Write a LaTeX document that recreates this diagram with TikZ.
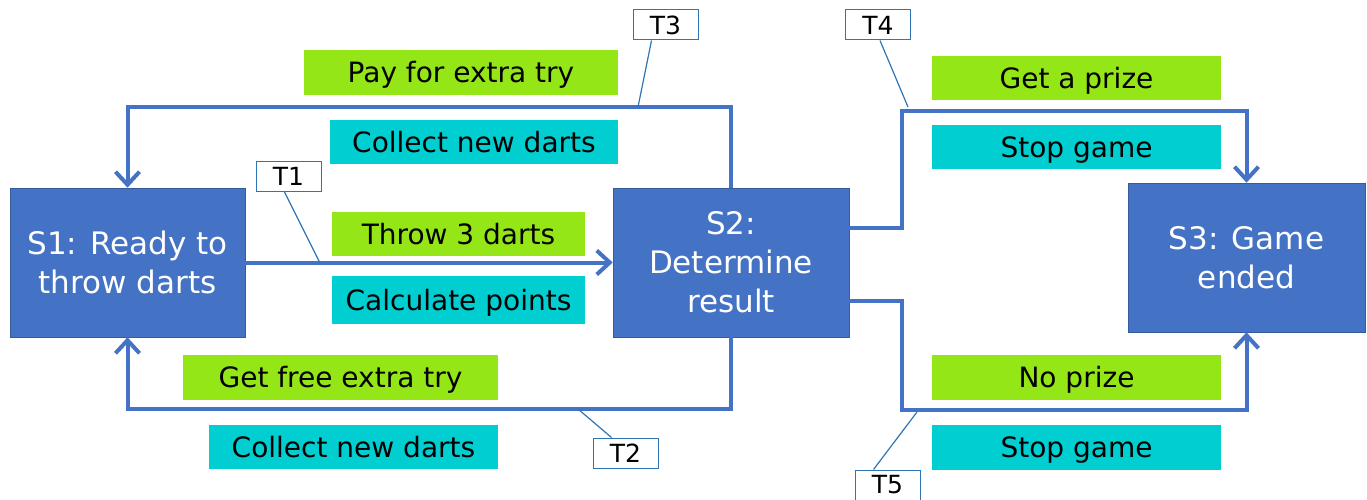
\documentclass[tikz,border=0pt]{standalone}
\usepackage{fontspec}
\setmainfont{DejaVu Sans}
\usetikzlibrary{arrows.meta}
\definecolor{stblue}{HTML}{4472C4}
\definecolor{lgreen}{HTML}{95E616}
\definecolor{lcyan}{HTML}{00CED1}
\definecolor{cblue}{HTML}{2E75B6}
\tikzset{
  state/.style={draw=stblue!80!black, line width=0.6pt, fill=stblue, text=white, align=center,
     inner sep=0pt, font=\fontsize{31}{39}\selectfont},
  lab/.style={inner sep=0pt, text=black, text height=22pt, text depth=1.6pt,
     font=\fontsize{28}{30}\selectfont},
  glab/.style={lab, fill=lgreen},
  clab/.style={lab, fill=lcyan},
  callout/.style={draw=cblue, line width=1pt, fill=white, inner sep=0pt,
     minimum width=65pt, minimum height=30pt, font=\fontsize{25}{28}\selectfont},
  conn/.style={draw=stblue, line width=4pt, -{Straight Barb[length=13pt,width=24pt,line width=4pt]}},
  cline/.style={draw=cblue, line width=1.2pt},
}
\begin{document}
\begin{tikzpicture}[x=1pt,y=-1pt]
\useasboundingbox (0,0) rectangle (1367,500);
% states
\node[state, minimum width=235pt, minimum height=149pt] (s1) at (127.5,262.5) {S1: Ready to\\throw darts};
\node[state, minimum width=236pt, minimum height=149pt] (s2) at (731,262.5) {S2:\\Determine\\result};
\node[state, minimum width=237pt, minimum height=149pt] (s3) at (1246.5,257.5) {S3: Game\\ended};
% labels
\node[glab, minimum width=314pt, minimum height=45pt] (l1) at (461,72.5) {Pay for extra try};
\node[clab, minimum width=288pt, minimum height=44pt] (l2) at (474,142) {Collect new darts};
\node[glab, minimum width=253pt, minimum height=44pt] (l3) at (458.5,234) {Throw 3 darts};
\node[clab, minimum width=253pt, minimum height=48pt] (l4) at (458.5,300) {Calculate points};
\node[glab, minimum width=315pt, minimum height=45pt] (l5) at (340.5,377.5) {Get free extra try};
\node[clab, minimum width=289pt, minimum height=44pt] (l6) at (353.5,447) {Collect new darts};
\node[glab, minimum width=289pt, minimum height=44pt] (l7) at (1076.5,78) {Get a prize};
\node[clab, minimum width=289pt, minimum height=44pt] (l8) at (1076.5,147) {Stop game};
\node[glab, minimum width=289pt, minimum height=45pt] (l9) at (1076.5,377.5) {No prize};
\node[clab, minimum width=289pt, minimum height=45pt] (l10) at (1076.5,447.5) {Stop game};
% bend points
\coordinate (b4) at (902,111);
\coordinate (b5) at (902,410);
% connectors
\draw[conn] (s1.east) -- (s2.west);
\draw[conn] (s2.north) -- ++(0,-81) -| (s1.north);
\draw[conn] (s2.south) -- ++(0,72) -| (s1.south);
\draw[conn] ([yshift=34.5pt]s2.east) -| (b4) -| (s3.north);
\draw[conn] ([yshift=-38.5pt]s2.east) -| (b5) -| (s3.south);
% callout pointers
\coordinate (p1) at (320,263);
\coordinate (p3) at (638,107);
\coordinate (p4) at (908,107);
\coordinate (p2) at (578,409);
\coordinate (p5) at (917,412);
\node[callout] (t1) at (288.5,176.5) {T1};
\node[callout] (t3) at (665.5,25) {T3};
\node[callout] (t4) at (878,25) {T4};
\node[callout] (t2) at (625.5,453) {T2};
\node[callout] (t5) at (887.5,485) {T5};
\draw[cline] ([xshift=-4pt]t1.south) -- (p1);
\draw[cline] ([xshift=-14pt]t3.south) -- (p3);
\draw[cline] ([xshift=2pt]t4.south) -- (p4);
\draw[cline] ([xshift=-14pt]t2.north) -- (p2);
\draw[cline] ([xshift=-14pt]t5.north) -- (p5);
\end{tikzpicture}
\end{document}
